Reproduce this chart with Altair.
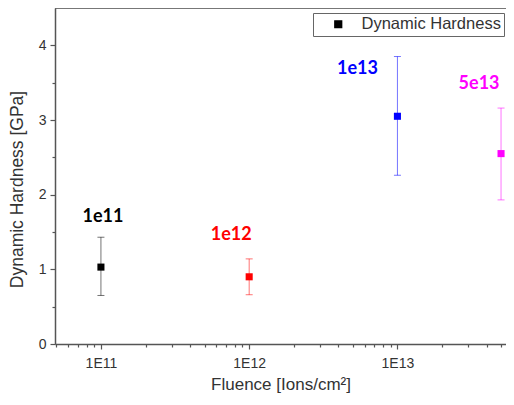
import altair as alt
import pandas as pd

# ---- data ----
fluence = [1e11, 1e12, 1e13, 5e13]
hardness = [1.03, 0.90, 3.05, 2.55]
err_low = [0.65, 0.66, 2.26, 1.93]
err_high = [1.43, 1.14, 3.85, 3.16]
labels = ["1e11", "1e12", "1e13", "5e13"]
colors = ["#000000", "#ff0000", "#0000ff", "#ff00ff"]
series_name = "Dynamic Hardness"

x_tick_values = [float(m) * 10.0 ** e for e in (10, 11, 12, 13) for m in range(1, 10)
                 if 4.9e10 <= m * 10.0 ** e <= 5.4e13]
y_tick_values = [0, 0.5, 1, 1.5, 2, 2.5, 3, 3.5, 4]

# label offsets (pixels) relative to each point
label_dx = [2, -18, -40, -22]
label_dy = [-50, -42, -47, -70]

df = pd.DataFrame({
    "fluence": fluence, "hardness": hardness,
    "low": err_low, "high": err_high,
    "label": labels, "series": [series_name] * len(labels),
})

W, H = 451, 336
AX = "#555555"
TXT = "#333333"

is_major_x = "abs(log(datum.value)/LN10 - round(log(datum.value)/LN10)) < 0.001"

xscale = alt.Scale(type="log", domain=[4.9e10, 5.4e13], nice=False)
yscale = alt.Scale(domain=[0, 4.5], nice=False)

x_enc = alt.X("fluence:Q", scale=xscale,
              axis=alt.Axis(values=x_tick_values,
                            labelExpr=f"({is_major_x}) ? '1E' + round(log(datum.value)/LN10) : ''",
                            tickSize={"condition": {"test": is_major_x, "value": 5}, "value": 3},
                            title="Fluence [Ions/cm²]", grid=False,
                            domainColor=AX, domainWidth=1.5, tickColor=AX, tickWidth=1.2,
                            labelFont="Liberation Sans", labelFontSize=14, labelColor=TXT,
                            labelPadding=7,
                            titleFont="Liberation Sans", titleFontSize=17, titleColor=TXT,
                            titleFontWeight="normal", titlePadding=6))
y_enc = alt.Y("hardness:Q", scale=yscale,
              axis=alt.Axis(values=y_tick_values,
                            labelExpr="datum.value % 1 == 0 ? format(datum.value, 'd') : ''",
                            tickSize={"condition": {"test": "datum.value % 1 == 0", "value": 5}, "value": 3},
                            title="Dynamic Hardness [GPa]", grid=False,
                            domainColor=AX, domainWidth=1.5, tickColor=AX, tickWidth=1.2,
                            labelFont="Liberation Sans", labelFontSize=14, labelColor=TXT,
                            labelPadding=4,
                            titleFont="Liberation Sans", titleFontSize=17.5, titleColor=TXT,
                            titleFontWeight="normal", titleAngle=270, titleBaseline="middle",
                            titleAlign="center", titleX=-38, titleY=181))

color_enc = alt.Color("label:N", scale=alt.Scale(domain=labels, range=colors), legend=None)

base = alt.Chart(df)

bars = base.mark_rule(strokeWidth=1, opacity=0.55).encode(
    x=x_enc, y=alt.Y("low:Q", scale=yscale), y2="high:Q", color=color_enc)
cap_lo = base.mark_tick(orient="horizontal", size=7, thickness=1, opacity=0.55).encode(
    x=x_enc, y=alt.Y("low:Q", scale=yscale), color=color_enc)
cap_hi = base.mark_tick(orient="horizontal", size=7, thickness=1, opacity=0.55).encode(
    x=x_enc, y=alt.Y("high:Q", scale=yscale), color=color_enc)

points = base.mark_point(filled=True, size=50, opacity=1).encode(
    x=x_enc, y=y_enc, color=color_enc,
    shape=alt.Shape("series:N", scale=alt.Scale(domain=[series_name], range=["square"]),
                    legend=alt.Legend(title=None, orient="none", legendX=258, legendY=5,
                                      strokeColor="#666666", padding=3,
                                      symbolFillColor="#000000", symbolStrokeColor="#000000",
                                      symbolSize=45, symbolOffset=14, labelOffset=15,
                                      labelFont="Liberation Sans", labelFontSize=16.5,
                                      labelColor=TXT, labelLimit=300)))

texts = []
for i, lab in enumerate(labels):
    texts.append(
        base.transform_filter(alt.datum.label == lab)
        .mark_text(font="Lato", fontSize=18, fontWeight="bold", align="center",
                   baseline="middle", dx=label_dx[i], dy=label_dy[i])
        .encode(x=x_enc, y=y_enc, text="label:N", color=color_enc)
    )

top_line = alt.Chart(pd.DataFrame({"v": [0]})).mark_rule(color=AX, strokeWidth=1.5).encode(
    x=alt.value(0), x2=alt.value(W), y=alt.value(0))

chart = alt.layer(top_line, bars, cap_lo, cap_hi, points, *texts).properties(
    width=W, height=H,
    autosize=alt.AutoSizeParams(type="none"),
    padding={"left": 47, "top": 0, "right": 0, "bottom": 49},
).configure_view(stroke=None).configure(background="white")

chart.save("out.html", embed_options={"renderer": "svg", "actions": False})
